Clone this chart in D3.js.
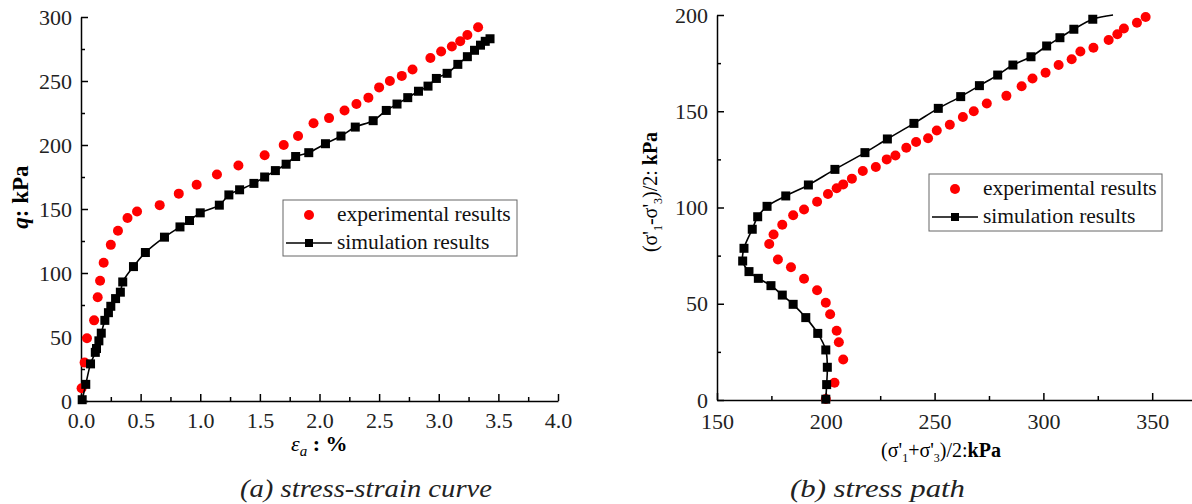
<!DOCTYPE html>
<html>
<head>
<meta charset="utf-8">
<script src="https://cdn.jsdelivr.net/npm/d3@7"></script>
<style>
  body { margin: 0; background: #fff; }
  svg { display: block; font-family: "Liberation Serif", "Times New Roman", Times, serif; }
</style>
</head>
<body>
<svg id="chart" width="1192" height="504"></svg>
<script>
// (a) stress-strain curve
var strainExp = [0.005, 0.03, 0.05, 0.11, 0.14, 0.16, 0.19, 0.25, 0.31, 0.39, 0.47, 0.66, 0.82, 0.97, 1.14, 1.32, 1.54, 1.70, 1.82, 1.95,
                 2.08, 2.21, 2.31, 2.41, 2.50, 2.59, 2.69, 2.78, 2.93, 3.02, 3.11, 3.18, 3.24, 3.33];
var qExp      = [10, 30, 49, 63, 81, 94, 108, 122, 133, 143, 148, 153, 162, 169, 177, 184, 192, 200, 207, 217,
                 221, 227, 232, 237, 245, 250, 254, 259, 268, 273, 277, 281, 286, 292];
var strainSim = [0.01, 0.04, 0.08, 0.12, 0.13, 0.15, 0.17, 0.20, 0.23, 0.25, 0.29, 0.33, 0.35, 0.44, 0.54, 0.70, 0.83, 0.91, 1.00, 1.16,
                 1.24, 1.33, 1.45, 1.54, 1.63, 1.72, 1.80, 1.91, 2.05, 2.18, 2.30, 2.45, 2.56, 2.65, 2.74, 2.83, 2.91, 2.98, 3.07, 3.16,
                 3.24, 3.30, 3.35, 3.39, 3.43];
var qSim      = [1, 13, 29, 38, 41, 47, 53, 63, 69, 74, 80, 85, 93, 105, 116, 128, 136, 141, 147, 153,
                 161, 165, 170, 175, 180, 185, 191, 194, 201, 207, 214, 219, 227, 232, 237, 242, 246, 252, 256, 263,
                 269, 274, 278, 281, 283];

// (b) stress path
var pExp = [200, 204, 208, 206, 205, 202, 200, 196, 190, 184, 178, 174, 176, 180, 185, 190, 196, 201, 205, 208,
            212, 217, 223, 228, 232, 237, 241.5, 247, 251, 257, 263, 268, 274, 283, 290, 295, 301, 307, 313, 317,
            323, 330, 334, 337, 343, 347];
var tExp = [0.5, 9, 21, 30, 36, 44.5, 50.5, 57, 63, 69, 73, 81, 86, 91, 96, 99, 103, 107, 110, 112,
            115, 119, 121, 125, 127, 131, 134, 136, 140, 143, 147, 150, 154, 158, 163, 167, 170, 174, 177, 181,
            183, 187, 190, 193, 196, 199];
// last point only continues the line to the top edge
var pSim = [200, 200.4, 200.7, 200, 196.3, 190.8, 185, 180, 174.8, 169, 164.7, 161.8, 162.4, 166.2, 168.7, 173, 181.6, 192, 204.2, 218,
            228.3, 240.5, 251.7, 262, 270.6, 279, 286, 294.3, 301.5, 307.6, 314, 322.7, 332];
var tSim = [0.4, 8, 17, 26, 34.6, 42.8, 49.7, 54.5, 59.4, 63.2, 66.7, 72.2, 78.8, 88.7, 95.2, 100.6, 106, 111.7, 119.8, 128.5,
            135.6, 143.7, 151.5, 157.6, 163.3, 168.8, 174, 178.3, 183.9, 188.2, 192.6, 197.8, 200];

var strainTicks = [0, 0.5, 1, 1.5, 2, 2.5, 3, 3.5, 4];
var qTicks      = [0, 50, 100, 150, 200, 250, 300];
var pTicks      = [150, 200, 250, 300, 350];
var tTicks      = [0, 50, 100, 150, 200];

var legendLabels = ['experimental results', 'simulation results'];
var captions = ['(a) stress-strain curve', '(b)  stress path'];

var serif = 'Liberation Serif';
var red = '#ff0000';
var svg = d3.select('#chart').attr('font-family', serif);

function zip(a, b) { return a.map(function(v, i) { return [v, b[i]]; }); }
function minors(ticks) {
  var out = [];
  for (var i = 0; i < ticks.length - 1; i++) out.push((ticks[i] + ticks[i + 1]) / 2);
  return out;
}

function drawAxes(g, x, y, xTicks, yTicks, xFmt, yFmt, xPad) {
  g.append('g').attr('transform', 'translate(0,' + y.range()[0] + ')')
    .call(d3.axisBottom(x).tickValues(xTicks).tickFormat(xFmt).tickSizeInner(-7).tickSizeOuter(0).tickPadding(xPad));
  g.append('g').attr('transform', 'translate(0,' + y.range()[0] + ')')
    .call(d3.axisBottom(x).tickValues(minors(xTicks)).tickFormat('').tickSizeInner(-4).tickSizeOuter(0))
    .select('.domain').remove();
  g.append('g').attr('transform', 'translate(' + x.range()[0] + ',0)')
    .call(d3.axisLeft(y).tickValues(yTicks).tickFormat(yFmt).tickSizeInner(-7).tickSizeOuter(0).tickPadding(9));
  g.append('g').attr('transform', 'translate(' + x.range()[0] + ',0)')
    .call(d3.axisLeft(y).tickValues(minors(yTicks)).tickFormat('').tickSizeInner(-4).tickSizeOuter(0))
    .select('.domain').remove();
  g.selectAll('g').attr('font-family', serif);
  g.selectAll('.domain, .tick line').attr('stroke', '#000').attr('stroke-width', 1.5);
  g.selectAll('.tick text').attr('font-family', serif).attr('font-size', 22).attr('fill', '#222');
}

function drawSeries(g, x, y, expPts, simPts, simMarkN) {
  g.append('g').selectAll('circle').data(expPts).enter().append('circle')
    .attr('cx', function(d) { return x(d[0]); })
    .attr('cy', function(d) { return y(d[1]); })
    .attr('r', 5)
    .attr('fill', red);
  g.append('path').datum(simPts)
    .attr('d', d3.line().x(function(d) { return x(d[0]); }).y(function(d) { return y(d[1]); })
      .curve(d3.curveCatmullRom.alpha(0.5)))
    .attr('fill', 'none').attr('stroke', '#000').attr('stroke-width', 1.6);
  g.append('g').selectAll('rect').data(simPts.slice(0, simMarkN)).enter().append('rect')
    .attr('x', function(d) { return x(d[0]) - 4.5; })
    .attr('y', function(d) { return y(d[1]) - 4.5; })
    .attr('width', 9).attr('height', 9)
    .attr('fill', '#000');
}

function drawLegend(g, left, top, w, h) {
  g.append('rect').attr('x', left).attr('y', top).attr('width', w).attr('height', h)
    .attr('fill', '#fff').attr('stroke', '#666').attr('stroke-width', 1);
  g.append('circle').attr('cx', left + 26).attr('cy', top + 15).attr('r', 5).attr('fill', red);
  g.append('line').attr('x1', left + 3).attr('x2', left + 49).attr('y1', top + 43).attr('y2', top + 43)
    .attr('stroke', '#000').attr('stroke-width', 1.6);
  g.append('rect').attr('x', left + 22).attr('y', top + 39).attr('width', 8).attr('height', 8).attr('fill', '#000');
  g.selectAll('text.leg').data(legendLabels).enter().append('text')
    .attr('class', 'leg')
    .attr('x', left + 54)
    .attr('y', function(d, i) { return top + 21 + i * 28; })
    .attr('font-family', serif).attr('font-size', 21.5).attr('fill', '#111')
    .text(function(d) { return d; });
}

// ---- panel (a)
var xa = d3.scaleLinear().domain([0, 4]).range([81, 558]);
var ya = d3.scaleLinear().domain([0, 300]).range([401, 17]);
var ga = svg.append('g');
drawAxes(ga, xa, ya, strainTicks, qTicks, d3.format('.1f'), d3.format('d'), 11);
drawSeries(ga, xa, ya, zip(strainExp, qExp), zip(strainSim, qSim), strainSim.length);
drawLegend(ga, 283, 200, 234, 56);

var yla = ga.append('text').attr('transform', 'translate(28,197) rotate(-90)')
  .attr('text-anchor', 'middle').attr('font-family', serif).attr('font-size', 23).attr('font-weight', 'bold');
yla.append('tspan').attr('font-style', 'italic').text('q');
yla.append('tspan').text(': kPa');

var xla = ga.append('text').attr('x', 291).attr('y', 451)
  .attr('font-family', serif).attr('font-size', 22);
xla.append('tspan').attr('font-style', 'italic').text('ε');
xla.append('tspan').attr('dy', 5).attr('font-size', 15).attr('font-style', 'italic').text('a');
xla.append('tspan').attr('dy', -5).attr('font-weight', 'bold').text(' : %');

// ---- panel (b)
var xb = d3.scaleLinear().domain([150, 368.3]).range([717, 1192]);
var yb = d3.scaleLinear().domain([0, 200]).range([400, 15]);
var gb = svg.append('g');
drawAxes(gb, xb, yb, pTicks, tTicks, d3.format('d'), d3.format('d'), 13);
drawSeries(gb, xb, yb, zip(pExp, tExp), zip(pSim, tSim), pSim.length - 1);
drawLegend(gb, 929, 174, 233, 57);

var ylb = gb.append('text').attr('transform', 'translate(657,192) rotate(-90)')
  .attr('text-anchor', 'middle').attr('font-family', serif).attr('font-size', 20);
ylb.append('tspan').text("(σ'");
ylb.append('tspan').attr('dy', 5).attr('font-size', 12).text('1');
ylb.append('tspan').attr('dy', -5).text("-σ'");
ylb.append('tspan').attr('dy', 5).attr('font-size', 12).text('3');
ylb.append('tspan').attr('dy', -5).text(')/2: ');
ylb.append('tspan').attr('font-weight', 'bold').text('kPa');

var xlb = gb.append('text').attr('x', 941).attr('y', 457)
  .attr('text-anchor', 'middle').attr('font-family', serif).attr('font-size', 20);
xlb.append('tspan').text("(σ'");
xlb.append('tspan').attr('dy', 5).attr('font-size', 12).text('1');
xlb.append('tspan').attr('dy', -5).text("+σ'");
xlb.append('tspan').attr('dy', 5).attr('font-size', 12).text('3');
xlb.append('tspan').attr('dy', -5).text(')/2:');
xlb.append('tspan').attr('font-weight', 'bold').text('kPa');

// ---- captions
svg.selectAll('text.cap').data(captions).enter().append('text')
  .attr('class', 'cap')
  .attr('x', function(d, i) { return i === 0 ? 240 : 790; })
  .attr('y', 497)
  .attr('textLength', function(d, i) { return i === 0 ? 252 : 175; })
  .attr('lengthAdjust', 'spacingAndGlyphs')
  .attr('font-family', serif).attr('font-size', 26).attr('font-style', 'italic').attr('fill', '#222')
  .text(function(d) { return d; });
</script>
</body>
</html>
